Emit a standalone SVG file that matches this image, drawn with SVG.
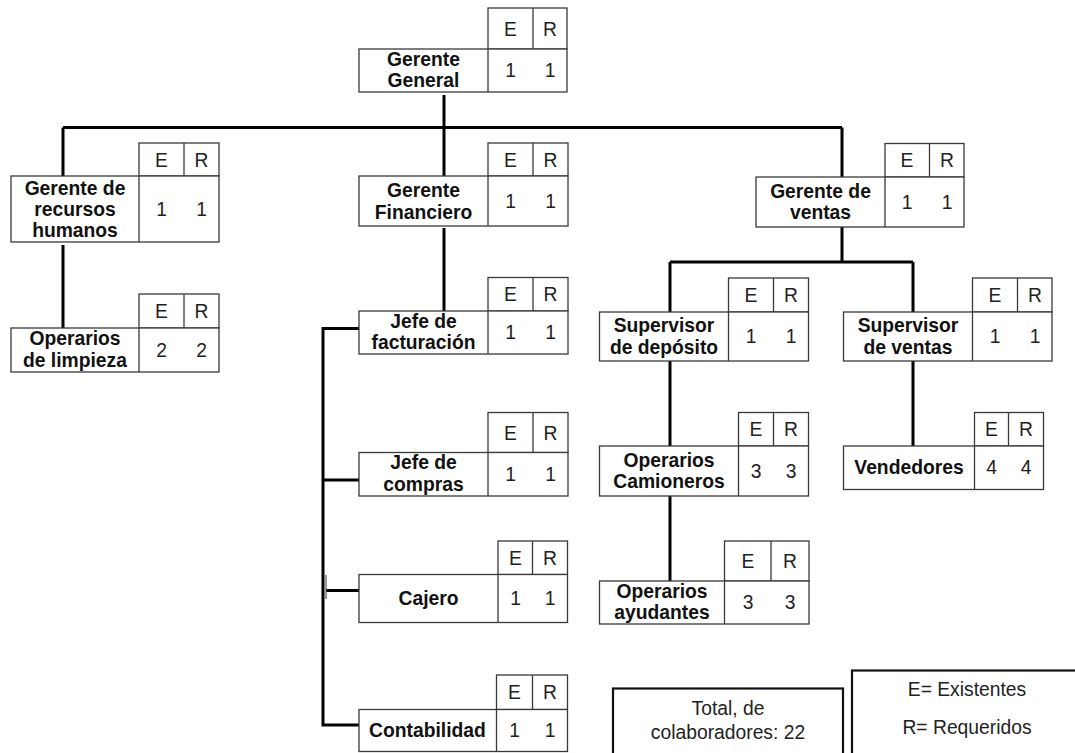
<svg xmlns="http://www.w3.org/2000/svg" width="1075" height="753" viewBox="0 0 1075 753">
  <style>
    .box { fill: #ffffff; stroke: #3a3a3a; stroke-width: 1.3; }
    .div { stroke: #3a3a3a; stroke-width: 1.3; }
    .lbl { font-family: "Liberation Sans", Arial, sans-serif; font-size: 19.3px; font-weight: bold; fill: #111111; text-anchor: middle; }
    .val { font-family: "Liberation Sans", Arial, sans-serif; font-size: 19.3px; fill: #222222; text-anchor: middle; }
    .note { font-family: "Liberation Sans", Arial, sans-serif; font-size: 19.3px; fill: #222222; text-anchor: middle; }
    .wire { fill: none; stroke: #000000; stroke-width: 3; }
    .frame { fill: #ffffff; stroke: #111111; stroke-width: 2.2; }
  </style>

  <rect width="1075" height="753" fill="#ffffff"/>

  <!-- connectors -->
  <g id="connectors">
    <path class="wire" d="M444,95 V127.5 M63,127.5 H842"/>
    <path class="wire" d="M63,127.5 V176 M444,127.5 V176 M842,127.5 V177"/>
    <path class="wire" d="M63,245 V328"/>
    <path class="wire" d="M444,228 V311"/>
    <path class="wire" d="M359,328.5 H323 V725 H359 M323,480 H359 M326,590.5 H359"/>
    <path d="M326,575 V599" stroke="#555555" stroke-width="1.2" fill="none"/>
    <path class="wire" d="M842,227 V262 M670,262 H913 M670,262 V312 M913,262 V312"/>
    <path class="wire" d="M670,361 V446 M913,361 V446"/>
    <path class="wire" d="M670,496 V581"/>
  </g>

  <!-- Gerente General -->
  <g id="gerente-general">
    <rect class="box" x="488" y="8" width="79" height="41"/>
    <line class="div" x1="533" y1="8" x2="533" y2="92"/>
    <rect class="box" x="359" y="49" width="208" height="43"/>
    <line class="div" x1="488" y1="49" x2="488" y2="92"/>
    <text class="val" x="510.5" y="36">E</text>
    <text class="val" x="550" y="36">R</text>
    <text class="lbl" x="423.5" y="65.5">Gerente</text>
    <text class="lbl" x="423.5" y="87">General</text>
    <text class="val" x="510.5" y="77">1</text>
    <text class="val" x="550" y="77">1</text>
  </g>

  <!-- Gerente de recursos humanos -->
  <g id="gerente-rrhh">
    <rect class="box" x="139" y="143" width="80" height="33"/>
    <line class="div" x1="184" y1="143" x2="184" y2="242"/>
    <rect class="box" x="11" y="176" width="208" height="66"/>
    <line class="div" x1="139" y1="176" x2="139" y2="242"/>
    <text class="val" x="161.5" y="166.5">E</text>
    <text class="val" x="201.5" y="166.5">R</text>
    <text class="lbl" x="75" y="194.5">Gerente de</text>
    <text class="lbl" x="75" y="216">recursos</text>
    <text class="lbl" x="75" y="237">humanos</text>
    <text class="val" x="161.5" y="215.5">1</text>
    <text class="val" x="201.5" y="215.5">1</text>
  </g>

  <!-- Operarios de limpieza -->
  <g id="operarios-limpieza">
    <rect class="box" x="139" y="294" width="80" height="34"/>
    <line class="div" x1="184" y1="294" x2="184" y2="372"/>
    <rect class="box" x="11" y="328" width="208" height="44"/>
    <line class="div" x1="139" y1="328" x2="139" y2="372"/>
    <text class="val" x="161.5" y="318">E</text>
    <text class="val" x="201.5" y="318">R</text>
    <text class="lbl" x="75" y="345">Operarios</text>
    <text class="lbl" x="75" y="366.5">de limpieza</text>
    <text class="val" x="161.5" y="356.5">2</text>
    <text class="val" x="201.5" y="356.5">2</text>
  </g>

  <!-- Gerente Financiero -->
  <g id="gerente-financiero">
    <rect class="box" x="488" y="143" width="80" height="33"/>
    <line class="div" x1="533" y1="143" x2="533" y2="226"/>
    <rect class="box" x="359" y="176" width="209" height="50"/>
    <line class="div" x1="488" y1="176" x2="488" y2="226"/>
    <text class="val" x="510.5" y="166.5">E</text>
    <text class="val" x="550.5" y="166.5">R</text>
    <text class="lbl" x="423.5" y="197">Gerente</text>
    <text class="lbl" x="423.5" y="218.5">Financiero</text>
    <text class="val" x="510.5" y="207.5">1</text>
    <text class="val" x="550.5" y="207.5">1</text>
  </g>

  <!-- Jefe de facturación -->
  <g id="jefe-facturacion">
    <rect class="box" x="488" y="277.5" width="80" height="33.5"/>
    <line class="div" x1="533" y1="277.5" x2="533" y2="354"/>
    <rect class="box" x="359" y="311" width="209" height="43"/>
    <line class="div" x1="488" y1="311" x2="488" y2="354"/>
    <text class="val" x="510.5" y="301">E</text>
    <text class="val" x="550.5" y="301">R</text>
    <text class="lbl" x="423.5" y="327.5">Jefe de</text>
    <text class="lbl" x="423.5" y="349">facturación</text>
    <text class="val" x="510.5" y="339">1</text>
    <text class="val" x="550.5" y="339">1</text>
  </g>

  <!-- Jefe de compras -->
  <g id="jefe-compras">
    <rect class="box" x="488" y="412.5" width="80" height="40"/>
    <line class="div" x1="533" y1="412.5" x2="533" y2="496"/>
    <rect class="box" x="359" y="452.5" width="209" height="43.5"/>
    <line class="div" x1="488" y1="452.5" x2="488" y2="496"/>
    <text class="val" x="510.5" y="439.5">E</text>
    <text class="val" x="550.5" y="439.5">R</text>
    <text class="lbl" x="423.5" y="469">Jefe de</text>
    <text class="lbl" x="423.5" y="490.5">compras</text>
    <text class="val" x="510.5" y="481">1</text>
    <text class="val" x="550.5" y="481">1</text>
  </g>

  <!-- Cajero -->
  <g id="cajero">
    <rect class="box" x="498" y="541" width="69.5" height="33.5"/>
    <line class="div" x1="532.5" y1="541" x2="532.5" y2="622.5"/>
    <rect class="box" x="359" y="574.5" width="208.5" height="48"/>
    <line class="div" x1="498" y1="574.5" x2="498" y2="622.5"/>
    <text class="val" x="515.5" y="564.5">E</text>
    <text class="val" x="550" y="564.5">R</text>
    <text class="lbl" x="428.5" y="605">Cajero</text>
    <text class="val" x="515.5" y="605">1</text>
    <text class="val" x="550" y="605">1</text>
  </g>

  <!-- Contabilidad -->
  <g id="contabilidad">
    <rect class="box" x="496.5" y="675" width="71" height="34.5"/>
    <line class="div" x1="532.5" y1="675" x2="532.5" y2="751.5"/>
    <rect class="box" x="359" y="709.5" width="208.5" height="42"/>
    <line class="div" x1="496.5" y1="709.5" x2="496.5" y2="751.5"/>
    <text class="val" x="514.5" y="699">E</text>
    <text class="val" x="550" y="699">R</text>
    <text class="lbl" x="427.5" y="737">Contabilidad</text>
    <text class="val" x="514.5" y="737">1</text>
    <text class="val" x="550" y="737">1</text>
  </g>

  <!-- Gerente de ventas -->
  <g id="gerente-ventas">
    <rect class="box" x="885" y="143.5" width="79" height="33.5"/>
    <line class="div" x1="929.5" y1="143.5" x2="929.5" y2="227"/>
    <rect class="box" x="756" y="177" width="208" height="50"/>
    <line class="div" x1="885" y1="177" x2="885" y2="227"/>
    <text class="val" x="907" y="167">E</text>
    <text class="val" x="947" y="167">R</text>
    <text class="lbl" x="820.5" y="197.5">Gerente de</text>
    <text class="lbl" x="820.5" y="219">ventas</text>
    <text class="val" x="907" y="208.5">1</text>
    <text class="val" x="947" y="208.5">1</text>
  </g>

  <!-- Supervisor de depósito -->
  <g id="supervisor-deposito">
    <rect class="box" x="728.5" y="278" width="80" height="34"/>
    <line class="div" x1="773.5" y1="278" x2="773.5" y2="361"/>
    <rect class="box" x="599.5" y="312" width="209" height="49"/>
    <line class="div" x1="728.5" y1="312" x2="728.5" y2="361"/>
    <text class="val" x="751" y="301.5">E</text>
    <text class="val" x="791" y="301.5">R</text>
    <text class="lbl" x="664" y="332">Supervisor</text>
    <text class="lbl" x="664" y="353.5">de depósito</text>
    <text class="val" x="751" y="343">1</text>
    <text class="val" x="791" y="343">1</text>
  </g>

  <!-- Supervisor de ventas -->
  <g id="supervisor-ventas">
    <rect class="box" x="972.5" y="278" width="79.5" height="34"/>
    <line class="div" x1="1017.5" y1="278" x2="1017.5" y2="361"/>
    <rect class="box" x="843.5" y="312" width="208.5" height="49"/>
    <line class="div" x1="972.5" y1="312" x2="972.5" y2="361"/>
    <text class="val" x="995" y="301.5">E</text>
    <text class="val" x="1035" y="301.5">R</text>
    <text class="lbl" x="908" y="332">Supervisor</text>
    <text class="lbl" x="908" y="353.5">de ventas</text>
    <text class="val" x="995" y="343">1</text>
    <text class="val" x="1035" y="343">1</text>
  </g>

  <!-- Operarios Camioneros -->
  <g id="operarios-camioneros">
    <rect class="box" x="738.5" y="412.5" width="70" height="33.5"/>
    <line class="div" x1="773.5" y1="412.5" x2="773.5" y2="496"/>
    <rect class="box" x="599.5" y="446" width="209" height="50"/>
    <line class="div" x1="738.5" y1="446" x2="738.5" y2="496"/>
    <text class="val" x="756" y="436">E</text>
    <text class="val" x="791" y="436">R</text>
    <text class="lbl" x="669" y="466.5">Operarios</text>
    <text class="lbl" x="669" y="488">Camioneros</text>
    <text class="val" x="756" y="477.5">3</text>
    <text class="val" x="791" y="477.5">3</text>
  </g>

  <!-- Vendedores -->
  <g id="vendedores">
    <rect class="box" x="974.5" y="412.5" width="69" height="33.5"/>
    <line class="div" x1="1008.5" y1="412.5" x2="1008.5" y2="489.5"/>
    <rect class="box" x="843.5" y="446" width="200" height="43.5"/>
    <line class="div" x1="974.5" y1="446" x2="974.5" y2="489.5"/>
    <text class="val" x="991.5" y="436">E</text>
    <text class="val" x="1026" y="436">R</text>
    <text class="lbl" x="909" y="474">Vendedores</text>
    <text class="val" x="991.5" y="474">4</text>
    <text class="val" x="1026" y="474">4</text>
  </g>

  <!-- Operarios ayudantes -->
  <g id="operarios-ayudantes">
    <rect class="box" x="724.5" y="541" width="84.5" height="40"/>
    <line class="div" x1="771" y1="541" x2="771" y2="624"/>
    <rect class="box" x="599.5" y="581" width="209.5" height="43"/>
    <line class="div" x1="724.5" y1="581" x2="724.5" y2="624"/>
    <text class="val" x="748" y="568">E</text>
    <text class="val" x="790" y="568">R</text>
    <text class="lbl" x="662" y="598">Operarios</text>
    <text class="lbl" x="662" y="619">ayudantes</text>
    <text class="val" x="748" y="609">3</text>
    <text class="val" x="790" y="609">3</text>
  </g>

  <!-- total staff box -->
  <g id="total">
    <rect class="frame" x="613" y="688.5" width="230" height="80"/>
    <text class="note" x="728" y="715">Total, de</text>
    <text class="note" x="728" y="738.5">colaboradores: 22</text>
  </g>

  <!-- legend -->
  <g id="legend">
    <rect class="frame" x="852" y="670.5" width="230" height="100"/>
    <text class="note" x="967" y="695.5">E= Existentes</text>
    <text class="note" x="967" y="733.5">R= Requeridos</text>
  </g>
</svg>
